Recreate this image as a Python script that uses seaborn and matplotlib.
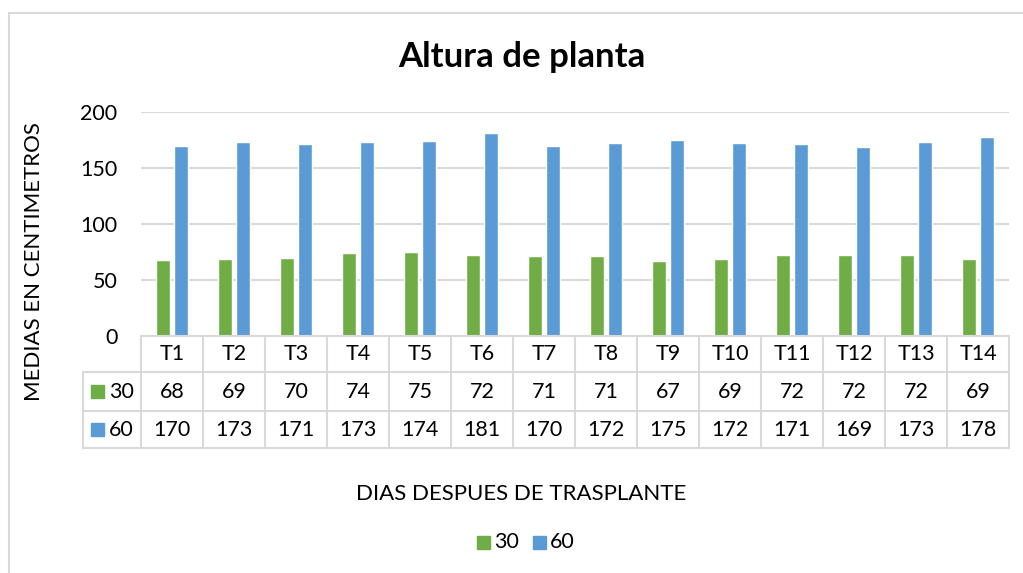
import matplotlib
matplotlib.use("Agg")
import matplotlib.pyplot as plt
import matplotlib.transforms as mtransforms
from matplotlib.patches import Rectangle
from matplotlib.lines import Line2D
import seaborn as sns
import pandas as pd

# ========================
# DATA
# ========================
tratamientos = ["T1", "T2", "T3", "T4", "T5", "T6", "T7",
                "T8", "T9", "T10", "T11", "T12", "T13", "T14"]
dias = ["30", "60"]
altura_30 = [68, 69, 70, 74, 75, 72, 71, 71, 67, 69, 72, 72, 72, 69]
altura_60 = [170, 173, 171, 173, 174, 181, 170, 172, 175, 172, 171, 169, 173, 178]
y_ticks = [0, 50, 100, 150, 200]

colores = {"30": "#70AD47", "60": "#5B9BD5"}
GRID = "#D9D9D9"
FS = 15.5

df = pd.DataFrame({
    "Tratamiento": tratamientos * 2,
    "Dias": ["30"] * len(tratamientos) + ["60"] * len(tratamientos),
    "Altura": altura_30 + altura_60,
})

# ========================
# FIGURE
# ========================
sns.set_style("white")
plt.rcParams["font.family"] = ["Lato", "DejaVu Sans"]
plt.rcParams["text.color"] = "black"
plt.rcParams["ytick.color"] = "black"

W, H = 1023, 573
fig = plt.figure(figsize=(W / 100, H / 100), dpi=100)

def fx(px):
    return px / W

def fy(py):
    return 1 - py / H

ax = fig.add_axes([fx(141), fy(336), fx(1009) - fx(141), fy(112) - fy(336)])

sns.barplot(data=df, x="Tratamiento", y="Altura", hue="Dias",
            palette=colores, width=0.57, gap=0.18, ax=ax,
            legend=False, saturation=1)

ax.set_ylim(0, 200)
ax.set_xlim(-0.5, len(tratamientos) - 0.5)
ax.set_yticks(y_ticks)
ax.set_yticklabels([str(t) for t in y_ticks], fontsize=FS)
ax.tick_params(axis="y", length=0, pad=17)
ax.set_xticks([])
ax.set_xlabel("")
ax.set_ylabel("")
for sp in ["top", "right", "left", "bottom"]:
    ax.spines[sp].set_visible(False)
ax.yaxis.grid(True, color=GRID, linewidth=1.5)
ax.set_axisbelow(True)

# ========================
# DATA TABLE
# ========================
trans = mtransforms.blended_transform_factory(ax.transData, fig.transFigure)
n = len(tratamientos)
x_leg = -0.5 - (141 - 83) / 62.0
rows_y = [fy(336), fy(372), fy(411), fy(448)]

lw = 1.5
# horizontal lines
ax.add_line(Line2D([-0.5, n - 0.5], [rows_y[0]] * 2, transform=trans,
                   color=GRID, lw=lw, clip_on=False))
for yy in rows_y[1:]:
    ax.add_line(Line2D([x_leg, n - 0.5], [yy] * 2, transform=trans,
                       color=GRID, lw=lw, clip_on=False))
# vertical lines
ax.add_line(Line2D([x_leg] * 2, [rows_y[1], rows_y[3]], transform=trans,
                   color=GRID, lw=lw, clip_on=False))
for i in range(n + 1):
    ax.add_line(Line2D([i - 0.5] * 2, [rows_y[0], rows_y[3]], transform=trans,
                       color=GRID, lw=lw, clip_on=False))

row_c = [(rows_y[k] + rows_y[k + 1]) / 2 for k in range(3)]
for i, t in enumerate(tratamientos):
    ax.text(i, row_c[0], t, transform=trans, ha="center", va="center", fontsize=FS)
    ax.text(i, row_c[1], str(altura_30[i]), transform=trans, ha="center", va="center", fontsize=FS)
    ax.text(i, row_c[2], str(altura_60[i]), transform=trans, ha="center", va="center", fontsize=FS)

# legend keys inside table
for k, d in enumerate(dias):
    yc = row_c[k + 1]
    fig.patches.append(Rectangle((fx(91), yc - 6 / H), 13 / W, 13 / H,
                                 transform=fig.transFigure, color=colores[d]))
    fig.text(fx(109), yc, d, ha="left", va="center", fontsize=FS)

# ========================
# TITLES / LEGEND
# ========================
fig.text(fx(522), fy(57), "Altura de planta", ha="center", va="center",
         fontsize=25, fontweight="bold")
fig.text(fx(34), fy(262), "MEDIAS EN CENTIMETROS", rotation=90,
         ha="center", va="center", fontsize=FS + 0.5)
fig.text(fx(521), fy(494), "DIAS DESPUES DE TRASPLANTE", ha="center",
         va="center", fontsize=FS + 0.5)

legend_x = [477, 533]
for k, d in enumerate(dias):
    fig.patches.append(Rectangle((fx(legend_x[k]), fy(549)), 13 / W, 13 / H,
                                 transform=fig.transFigure, color=colores[d]))
    fig.text(fx(legend_x[k] + 17), fy(542), d, ha="left", va="center", fontsize=FS)

# chart border (top and left visible)
fig.add_artist(Line2D([fx(9), fx(1023)], [fy(13), fy(13)], color=GRID, lw=1.5))
fig.add_artist(Line2D([fx(9), fx(9)], [fy(13), 0], color=GRID, lw=1.5))

fig.savefig("out.png", dpi=100)
